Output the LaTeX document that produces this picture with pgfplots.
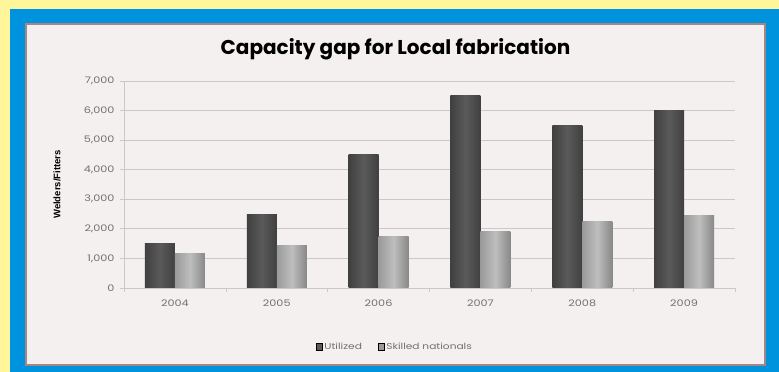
\documentclass[border=0pt]{standalone}
\usepackage{fontspec}
\setmainfont{Poppins}
\newfontfamily\labfont{Poppins}[FakeStretch=1.25]
\newfontfamily\ylabfont{Liberation Sans}
\usepackage{pgfplots}
\pgfplotsset{compat=1.18}
\definecolor{yellowbg}{HTML}{FFF69B}
\definecolor{bluebg}{HTML}{0093DD}
\definecolor{borderc}{HTML}{A88484}
\definecolor{chartbg}{HTML}{F4F0EF}
\definecolor{gridc}{HTML}{CCC8C8}
\definecolor{tickc}{HTML}{707070}
\definecolor{dA}{HTML}{404040}
\definecolor{dB}{HTML}{5A5A5A}
\definecolor{lA}{HTML}{9A9A9A}
\definecolor{lB}{HTML}{BEBEBE}
\definecolor{lC}{HTML}{888888}
\pgfplotsset{
  ubar/.style={ybar, bar width=30pt, bar shift=-15pt, draw=none, left color=dA, right color=dA, middle color=dB, forget plot},
  sbar/.style={ybar, bar width=30pt, bar shift=15pt, draw=none, left color=lA, right color=lC, middle color=lB, forget plot},
}
\begin{document}
\begin{tikzpicture}[x=1pt,y=1pt]
\fill[yellowbg] (0,0) rectangle (779,372);
\fill[bluebg] (10,0) rectangle (779,363);
\fill[borderc] (25,6) rectangle (766,349);
\fill[chartbg] (27,8) rectangle (764,347);
\node[anchor=base, font=\bfseries\fontsize{20}{22}\selectfont, text=black] at (395.5,317) {Capacity gap for Local fabrication};
\begin{axis}[
  at={(124pt,84pt)}, anchor=south west,
  scale only axis, width=611pt, height=207pt,
  ymin=0, ymax=7000, ytick={0,1000,...,7000},
  xmin=-0.5, xmax=5.5, xtick={0,...,5},
  xticklabels={2004,2005,2006,2007,2008,2009},
  minor xtick={-0.5,0.5,...,5.5},
  axis lines*=left,
  axis line style={gridc, line width=0.8pt},
  ymajorgrids, grid style={gridc, line width=0.8pt},
  tick align=outside,
  major tick length=4pt, minor tick length=4pt,
  x tick style={draw=none}, minor x tick style={draw=gridc, line width=0.6pt},
  y tick style={gridc, line width=0.8pt},
  tick label style={font=\labfont\fontsize{9}{9}\selectfont, text=tickc},
  /pgf/number format/assume math mode=true,
  /pgf/number format/1000 sep={,},
  scaled y ticks=false,
  yticklabel style={xshift=-2pt},
  xticklabel style={yshift=-4pt},
  ylabel={\ylabfont\bfseries\fontsize{9.5}{10}\selectfont Welders/Fitters},
  ylabel style={at={(axis description cs:-0.1097,0.5)}, anchor=center},
  legend style={at={(0.4435,-0.285)}, anchor=center, draw=none, fill=none,
    legend columns=2, font=\labfont\fontsize{8.5}{9}\selectfont, text=tickc,
    /tikz/every even column/.append style={column sep=14pt}},
  legend image code/.code={\fill[#1] (0pt,-3pt) rectangle (6pt,3.5pt);},
]
% Utilized
\addplot[ubar] coordinates {(0,1500)};
\addplot[ubar] coordinates {(1,2500)};
\addplot[ubar] coordinates {(2,4500)};
\addplot[ubar] coordinates {(3,6500)};
\addplot[ubar] coordinates {(4,5500)};
\addplot[ubar] coordinates {(5,6000)};
% Skilled nationals
\addplot[sbar] coordinates {(0,1180)};
\addplot[sbar] coordinates {(1,1450)};
\addplot[sbar] coordinates {(2,1750)};
\addplot[sbar] coordinates {(3,1920)};
\addplot[sbar] coordinates {(4,2260)};
\addplot[sbar] coordinates {(5,2450)};
\addlegendimage{fill=dB}
\addlegendentry{Utilized}
\addlegendimage{fill=lA}
\addlegendentry{Skilled nationals}
\end{axis}
\pgfresetboundingbox
\path[use as bounding box] (0,0) rectangle (779,372);
\end{tikzpicture}
\end{document}
